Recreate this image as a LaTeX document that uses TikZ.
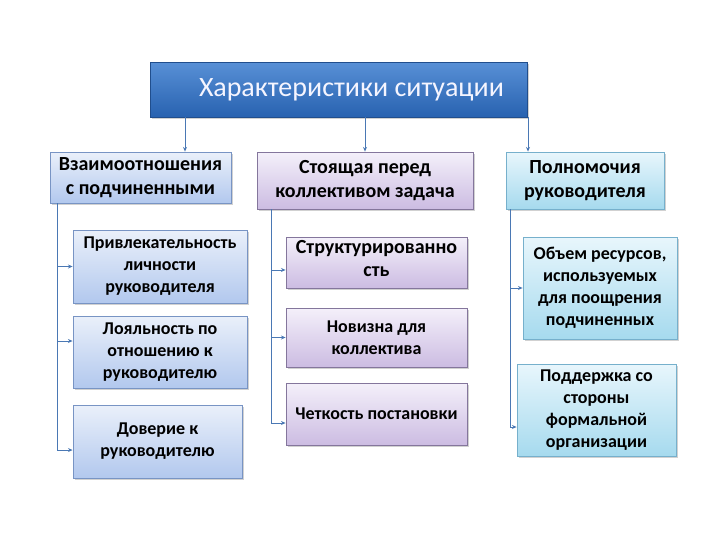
\documentclass[tikz,border=0pt]{standalone}
\usepackage{fontspec}
\setmainfont{Carlito}
\usetikzlibrary{arrows.meta,shadows}

\definecolor{titletop}{RGB}{88,144,214}
\definecolor{titlebot}{RGB}{40,98,176}
\definecolor{bluetop}{RGB}{234,240,250}
\definecolor{bluebot}{RGB}{178,200,238}
\definecolor{blueline}{RGB}{120,148,196}
\definecolor{liltop}{RGB}{244,240,250}
\definecolor{lilbot}{RGB}{204,188,226}
\definecolor{lilline}{RGB}{132,118,156}
\definecolor{cyantop}{RGB}{232,246,252}
\definecolor{cyanbot}{RGB}{166,218,238}
\definecolor{cyanline}{RGB}{118,176,204}
\definecolor{connline}{RGB}{74,120,180}

\tikzset{every picture/.style={line width=0.75pt}}
\tikzset{
  boxshadow/.style={drop shadow={shadow xshift=1.5pt,shadow yshift=-1.5pt,opacity=0.3,fill=black!60}},
  titlebox/.style={rectangle,inner sep=0pt,draw=titlebot!80!black,line width=0.5pt,top color=titletop,bottom color=titlebot,boxshadow,text=blue!4,font=\fontsize{21}{25}\selectfont},
  c1box/.style={rectangle,inner sep=0pt,align=center,draw=blueline,line width=0.6pt,top color=bluetop,bottom color=bluebot,boxshadow,font=\bfseries\fontsize{15}{17.5}\selectfont},
  c2box/.style={rectangle,inner sep=0pt,align=center,draw=lilline,line width=0.6pt,top color=liltop,bottom color=lilbot,boxshadow,font=\bfseries\fontsize{15}{17.5}\selectfont},
  c3box/.style={rectangle,inner sep=0pt,align=center,draw=cyanline,line width=0.6pt,top color=cyantop,bottom color=cyanbot,boxshadow,font=\bfseries\fontsize{15}{17.5}\selectfont},
  small/.style={font=\bfseries\fontsize{13.5}{16.5}\selectfont},
  conn/.style={draw=connline,line width=0.6pt,-{Stealth[length=3.5pt,width=3pt]}},
  trunk/.style={draw=connline,line width=0.6pt}
}

\begin{document}
\begin{tikzpicture}[x=0.75pt,y=0.75pt,yscale=-1,xscale=1]
\useasboundingbox (0,0) rectangle (720,540);

%Shape: Rectangle [title]
\node [titlebox,minimum width=282.75pt,minimum height=41.25pt] (title) at (338.5,89.5) {\hspace*{19.5pt}Характеристики ситуации};

%Shape: Rectangle [column 1]
\node [c1box,minimum width=135.75pt,minimum height=38.25pt] (c1h) at (140.5,177.5) {Взаимоотношения\\с подчиненными};
\node [c1box,small,minimum width=130.5pt,minimum height=54.75pt] (c1a) at (160,266.5) {Привлекательность\\личности\\руководителя};
\node [c1box,small,minimum width=130.5pt,minimum height=54pt] (c1b) at (160,352) {Лояльность по\\отношению к\\руководителю};
\node [c1box,small,minimum width=126.75pt,minimum height=54.75pt] (c1c) at (157.5,441.5) {Доверие к\\руководителю};

%Shape: Rectangle [column 2]
\node [c2box,minimum width=162pt,minimum height=42.75pt] (c2h) at (365,180.5) {Стоящая перед\\коллективом задача};
\node [c2box,minimum width=135.75pt,minimum height=38.25pt,inner ysep=0pt,text depth=6pt] (c2a) at (376.5,262.5) {Структурированно\\сть};
\node [c2box,small,minimum width=135.75pt,minimum height=44.25pt] (c2b) at (376.5,337.5) {Новизна для\\коллектива};
\node [c2box,small,minimum width=135.75pt,minimum height=46.5pt] (c2c) at (376.5,414) {Четкость постановки};

%Shape: Rectangle [column 3]
\node [c3box,minimum width=118.5pt,minimum height=42.75pt] (c3h) at (585,180.5) {Полномочия\\руководителя};
\node [c3box,small,minimum width=115.5pt,minimum height=76.5pt] (c3a) at (600,288) {Объем ресурсов,\\используемых\\для поощрения\\подчиненных};
\node [c3box,small,minimum width=119.25pt,minimum height=69pt] (c3b) at (596.5,410) {Поддержка со\\стороны\\формальной\\организации};

%Straight Lines [from title]
\coordinate (x1) at (185,0);
\coordinate (x3) at (528,0);
\draw [conn] (title.south -| x1) -- (c1h.north -| x1);
\draw [conn] (title.south -| c2h.north) -- (c2h.north);
\draw [conn] (title.south -| x3) -- (c3h.north -| x3);

%Straight Lines [column 1]
\coordinate (v1) at (57,203);
\draw [trunk] (v1) -- (57,450);
\draw [conn] (v1) |- (c1a.west);
\draw [conn] (v1) |- ([yshift=-8.25pt]c1b.west);
\draw [conn] (v1) |- ([yshift=6.4pt]c1c.west);

%Straight Lines [column 2]
\coordinate (v2) at (271,209);
\draw [trunk] (v2) -- (271,423);
\draw [conn] (v2) |- ([yshift=5.6pt]c2a.west);
\draw [conn] (v2) |- (c2b.west);
\draw [conn] (v2) |- ([yshift=6.75pt]c2c.west);

%Straight Lines [column 3]
\coordinate (v3) at (510,209);
\draw [trunk] (v3) -- (510,427);
\draw [conn] (v3) |- (c3a.west);
\draw [conn] (v3) |- ([yshift=12.75pt]c3b.west);
\end{tikzpicture}
\end{document}
